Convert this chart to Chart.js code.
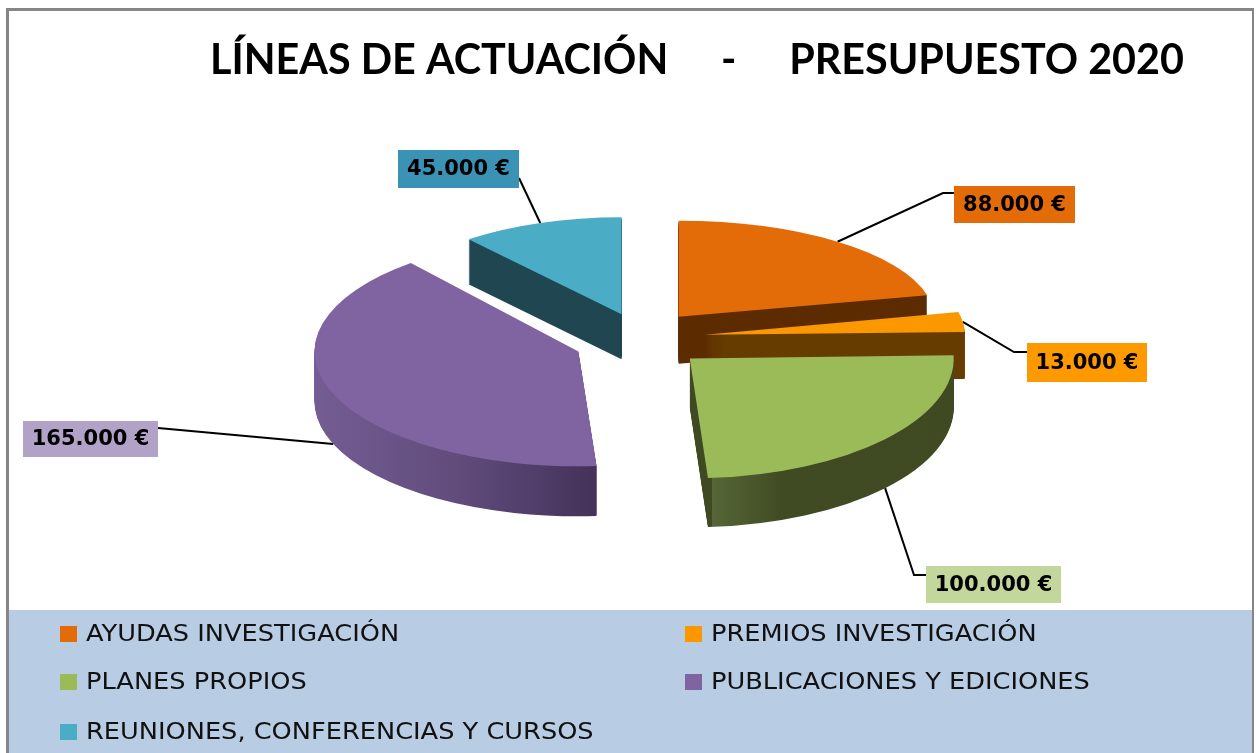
<!DOCTYPE html>
<html>
<head>
<meta charset="utf-8">
<style>html,body{margin:0;padding:0;background:#fff}canvas{display:block}</style>
<script src="https://cdn.jsdelivr.net/npm/chart.js@4"></script>
</head>
<body>
<canvas id="c" width="1256" height="753"></canvas>
<script>
const TITLE = 'LÍNEAS DE ACTUACIÓN     \u200A-\u200A     PRESUPUESTO 2020';
const categories = ['AYUDAS INVESTIGACIÓN','PREMIOS INVESTIGACIÓN','PLANES PROPIOS','PUBLICACIONES Y EDICIONES','REUNIONES, CONFERENCIAS Y CURSOS'];
const values = [88000,13000,100000,165000,45000];
const sliceColors = ['#e36c09','#fb9800','#9bbb59','#8064a2','#4bacc6'];
const labelColors = ['#e36c09','#ff9900','#c3d69b','#b3a2c7','#3a93b5'];

// styling / layout only
const sliceOffsets = [62,64,65,64,58];
const tiltX = [1,1.02,1.035,1.035,.945];
const tiltY = [.376,.40,.47,.45,.38];
const shiftY = [0,3,3,6,0];
const depths = [47,47,49,50,45];
const paintOrder = [4,3,0,1,2];
const wallStops = [
  [[0,'#5c2b00'],[1,'#5c2b00']],
  [[0,'#663c00'],[1,'#663c00']],
  [[0,'#3f4a22'],[.083,'#3f4a22'],[.084,'#566636'],[.35,'#404b23'],[1,'#3f4a22']],
  [[0,'#735d94'],[.5,'#614c7c'],[1,'#44325a']],
  [[0,'#1f4651'],[1,'#1f4651']]
];
const labelBoxes = [[954,186,121,37],[1027,343,120,39],[926,566,135,37],[23,421,135,36],[398,150,121,38]];
const elbows = [[943,193],[1014,352],[914,575],[158,428],[519,178]];
const legendSpots = [[60,634],[685,634],[60,682],[685,682],[60,732]];

const fmt = v => String(v).replace(/\B(?=(\d{3})+$)/g,'.') + ' €';
const midOf = a => (a.startAngle+a.endAngle)/2;

function apex(a,i){
  const m = midOf(a), o = sliceOffsets[i];
  return [tiltX[i]*o*Math.cos(m), tiltY[i]*o*Math.sin(m)+shiftY[i]];
}
function tip(a,i){
  const m = midOf(a), r = a.outerRadius + sliceOffsets[i], s = Math.sin(m);
  return [a.x + tiltX[i]*Math.cos(m)*r, a.y + shiftY[i] + tiltY[i]*s*r + (s>.3?depths[i]:0)];
}

const pie3d = {
  id:'pie3d',
  beforeDraw(chart){
    const c = chart.ctx;
    c.save();
    c.fillStyle='#fff'; c.fillRect(0,0,1256,753);
    c.fillStyle='#868686';
    c.fillRect(6,8,1248,3); c.fillRect(6,8,3,745); c.fillRect(1252,8,2,745);
    c.fillStyle='#b8cce4'; c.fillRect(9,610,1243,143);
    c.restore();
  },
  afterLayout(chart){
    chart.titleBlock.left = 197; chart.titleBlock.right = 1197;
  },
  beforeDatasetsDraw(chart){
    const c = chart.ctx, arcs = chart.getDatasetMeta(0).data;
    // leader lines under the slices
    c.save(); c.strokeStyle='#000'; c.lineWidth=2;
    arcs.forEach((a,i)=>{
      const t = tip(a,i), e = elbows[i], b = labelBoxes[i];
      c.beginPath(); c.moveTo(t[0],t[1]); c.lineTo(e[0],e[1]);
      if (e[0] < b[0]) c.lineTo(b[0],e[1]);
      c.stroke();
    });
    c.restore();
    paintOrder.forEach(i=>{
      const a = arcs[i], cx=a.x, cy=a.y, sx=tiltX[i], sy=tiltY[i];
      const base = a.options, R = a.outerRadius, p = apex(a,i);
      const place = d => { c.translate(cx+p[0],cy+p[1]+d); c.scale(sx,sy); c.translate(-cx,-cy); };
      // gradient spans the slice's own horizontal extent
      const xs=[0];
      for(let k=0;k<=24;k++){const t=a.startAngle+(a.endAngle-a.startAngle)*k/24; xs.push(Math.cos(t)*R);}
      const g = c.createLinearGradient(cx+Math.min(...xs),0,cx+Math.max(...xs),0);
      wallStops[i].forEach(s=>g.addColorStop(s[0],s[1]));
      a.options = Object.assign({},base,{backgroundColor:g,borderWidth:0});
      for(let d=depths[i];d>=1;d--){ c.save(); place(d); a.draw(c); c.restore(); }
      a.options = base;
      c.save(); place(0); a.draw(c); c.restore();
    });
    // value labels
    c.save();
    c.textBaseline='middle'; c.textAlign='center';
    c.font='bold 21px "DejaVu Sans"';
    arcs.forEach((a,i)=>{
      const b=labelBoxes[i];
      c.fillStyle=labelColors[i]; c.fillRect(b[0],b[1],b[2],b[3]);
      c.fillStyle='#000'; c.fillText(fmt(values[i]),b[0]+b[2]/2,b[1]+b[3]/2+1);
    });
    // legend
    c.font='23px "DejaVu Sans"'; c.textAlign='left';
    categories.forEach((n,i)=>{
      const p=legendSpots[i];
      c.fillStyle=sliceColors[i]; c.fillRect(p[0],p[1]-8,17,16);
      c.save(); c.translate(p[0]+26,p[1]+1); c.scale(1.115,1);
      c.fillStyle='#111'; c.fillText(n,0,0); c.restore();
    });
    c.restore();
    return false;
  }
};

new Chart(document.getElementById('c'),{
  type:'pie',
  data:{labels:categories,datasets:[{data:values,backgroundColor:sliceColors,borderWidth:0}]},
  options:{
    responsive:false,animation:false,radius:255,
    layout:{padding:{left:40,right:16,top:0,bottom:183}},
    events:[],
    plugins:{
      legend:{display:false},tooltip:{enabled:false},
      title:{display:true,text:TITLE,color:'#000',align:'center',
        font:{family:'Lato',weight:'bold',size:41.3,lineHeight:1.2},padding:{top:36.2,bottom:14.2}}
    }
  },
  plugins:[pie3d]
});
</script>
</body>
</html>
